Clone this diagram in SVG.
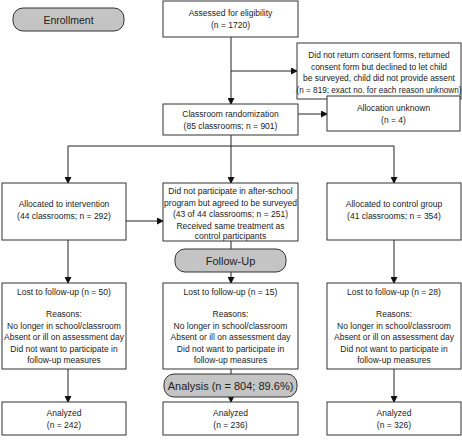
<svg xmlns="http://www.w3.org/2000/svg" width="462" height="445" viewBox="0 0 462 445">
<style>
.box{fill:#fff;stroke:#333;stroke-width:1}
.pill{fill:#c4c4c4;stroke:#333;stroke-width:1}
.t{font-family:"Liberation Sans",Arial,sans-serif;font-size:8.5px;fill:#222;text-anchor:middle}
.pt{font-family:"Liberation Sans",Arial,sans-serif;font-size:11px;fill:#222;text-anchor:middle}
.ln{fill:none;stroke:#222;stroke-width:1}
</style>
<defs>
<marker id="ah" markerWidth="7" markerHeight="7" refX="6" refY="3.5" orient="auto" markerUnits="userSpaceOnUse">
<path d="M0,0 L7,3.5 L0,7 Z" fill="#111"/>
</marker>
</defs>
<g id="connectors">
<path class="ln" d="M231,37 V104" marker-end="url(#ah)"/>
<path class="ln" d="M231,71 H297" marker-end="url(#ah)"/>
<path class="ln" d="M298,114 H327" marker-end="url(#ah)"/>
<path class="ln" d="M231,135 V183" marker-end="url(#ah)"/>
<path class="ln" d="M68,146 H394"/>
<path class="ln" d="M68,146 V183" marker-end="url(#ah)"/>
<path class="ln" d="M394,146 V183" marker-end="url(#ah)"/>
<path class="ln" d="M126,221 H163" marker-end="url(#ah)"/>
<path class="ln" d="M231,241 V249"/>
<path class="ln" d="M231,272 V283" marker-end="url(#ah)"/>
<path class="ln" d="M68,240 V283" marker-end="url(#ah)"/>
<path class="ln" d="M394,240 V283" marker-end="url(#ah)"/>
<path class="ln" d="M231,369 V374"/>
<path class="ln" d="M231,397 V402" marker-end="url(#ah)"/>
<path class="ln" d="M68,369 V402" marker-end="url(#ah)"/>
<path class="ln" d="M394,369 V402" marker-end="url(#ah)"/>
</g>
<g id="enrollment">
<rect class="pill" x="13" y="8" width="111" height="23" rx="10"/>
<text class="pt" x="68.5" y="23.5" style="font-size:10.5px">Enrollment</text>
</g>
<g id="assessed">
<rect class="box" x="163" y="1" width="135" height="36"/>
<text class="t" x="230.5" y="16">Assessed for eligibility</text>
<text class="t" x="230.5" y="28">(n = 1720)</text>
</g>
<g id="excluded">
<rect class="box" x="297" y="43" width="164" height="56"/>
<text class="t" x="379" y="58" style="font-size:8.4px">Did not return consent forms,  returned</text>
<text class="t" x="379" y="69.5" style="font-size:8.4px">consent form but declined to let child</text>
<text class="t" x="379" y="81" style="font-size:8.4px">be surveyed, child did not provide assent</text>
<text class="t" x="379" y="92.5" style="font-size:8.2px">(n = 819; exact no. for each reason unknown)</text>
</g>
<g id="randomization">
<rect class="box" x="163" y="104" width="135" height="31"/>
<text class="t" x="230.5" y="117">Classroom randomization</text>
<text class="t" x="230.5" y="128.5">(85 classrooms; n = 901)</text>
</g>
<g id="unknown">
<rect class="box" x="327" y="96" width="133" height="35"/>
<text class="t" x="393.5" y="111">Allocation unknown</text>
<text class="t" x="393.5" y="123">(n = 4)</text>
</g>
<g id="intervention">
<rect class="box" x="2" y="183" width="124" height="57"/>
<text class="t" x="64" y="207">Allocated to intervention</text>
<text class="t" x="64" y="219">(44 classrooms; n = 292)</text>
</g>
<g id="nonparticipants">
<rect class="box" x="163" y="183" width="135" height="58"/>
<text class="t" x="230.5" y="194">Did not participate in after-school</text>
<text class="t" x="230.5" y="205.5">program but agreed to be surveyed</text>
<text class="t" x="230.5" y="217">(43 of 44 classrooms; n = 251)</text>
<text class="t" x="230.5" y="228.5">Received same treatment as</text>
<text class="t" x="230.5" y="239">control participants</text>
</g>
<g id="control">
<rect class="box" x="327" y="183" width="134" height="57"/>
<text class="t" x="394" y="207">Allocated to control group</text>
<text class="t" x="394" y="219">(41 classrooms; n = 354)</text>
</g>
<g id="followup">
<rect class="pill" x="175" y="249" width="111" height="23" rx="10"/>
<text class="pt" x="230.5" y="264.5">Follow-Up</text>
</g>
<g id="lost-intervention">
<rect class="box" x="2" y="283" width="124" height="86"/>
<text class="t" x="64" y="295">Lost to follow-up (n = 50)</text>
<text class="t" x="64" y="317">Reasons:</text>
<text class="t" x="64" y="328.5">No longer in school/classroom</text>
<text class="t" x="64" y="340">Absent or ill on assessment day</text>
<text class="t" x="64" y="351.5">Did not want to participate in</text>
<text class="t" x="64" y="363">follow-up measures</text>
</g>
<g id="lost-nonparticipants">
<rect class="box" x="163" y="283" width="135" height="86"/>
<text class="t" x="230.5" y="295">Lost to follow-up (n = 15)</text>
<text class="t" x="230.5" y="317">Reasons:</text>
<text class="t" x="230.5" y="328.5">No longer in school/classroom</text>
<text class="t" x="230.5" y="340">Absent or ill on assessment day</text>
<text class="t" x="230.5" y="351.5">Did not want to participate in</text>
<text class="t" x="230.5" y="363">follow-up measures</text>
</g>
<g id="lost-control">
<rect class="box" x="327" y="283" width="134" height="86"/>
<text class="t" x="394" y="295">Lost to follow-up (n = 28)</text>
<text class="t" x="394" y="317">Reasons:</text>
<text class="t" x="394" y="328.5">No longer in school/classroom</text>
<text class="t" x="394" y="340">Absent or ill on assessment day</text>
<text class="t" x="394" y="351.5">Did not want to participate in</text>
<text class="t" x="394" y="363">follow-up measures</text>
</g>
<g id="analysis">
<rect class="pill" x="164" y="374" width="133" height="23" rx="10"/>
<text class="pt" x="230.5" y="389.5">Analysis (n = 804; 89.6%)</text>
</g>
<g id="analyzed-intervention">
<rect class="box" x="2" y="402" width="124" height="33"/>
<text class="t" x="64" y="416">Analyzed</text>
<text class="t" x="64" y="428">(n = 242)</text>
</g>
<g id="analyzed-nonparticipants">
<rect class="box" x="163" y="402" width="135" height="33"/>
<text class="t" x="230.5" y="416">Analyzed</text>
<text class="t" x="230.5" y="428">(n = 236)</text>
</g>
<g id="analyzed-control">
<rect class="box" x="327" y="402" width="134" height="33"/>
<text class="t" x="394" y="416">Analyzed</text>
<text class="t" x="394" y="428">(n = 326)</text>
</g>
</svg>
